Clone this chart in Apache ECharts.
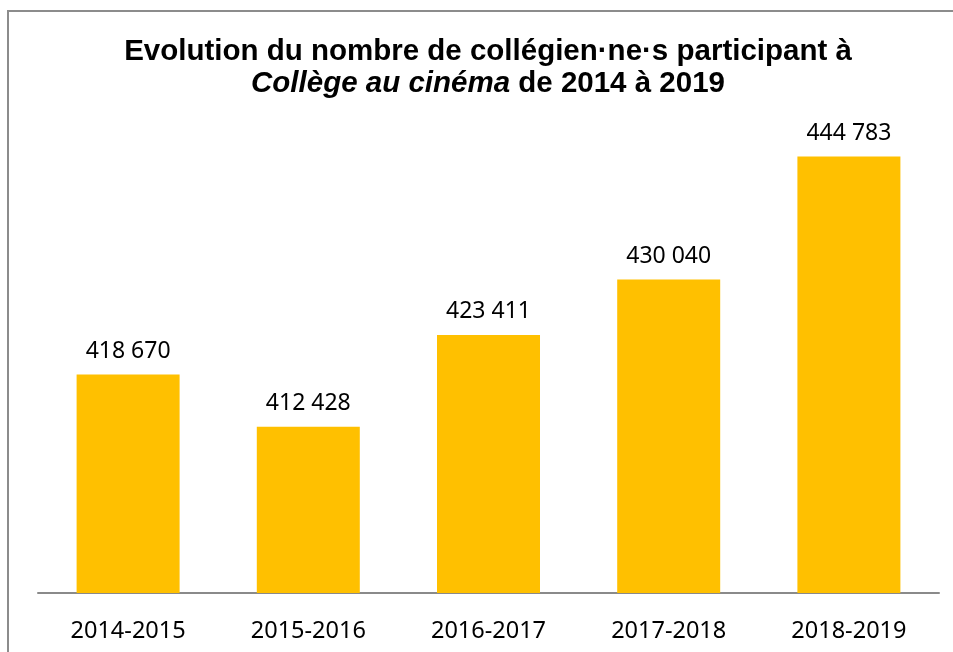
<!DOCTYPE html>
<html lang="fr">
<head>
    <meta charset="UTF-8">
    <title>Collège au cinéma</title>
    <script src="https://cdn.jsdelivr.net/npm/echarts@6/dist/echarts.min.js"></script>
    <style type="text/css">
        html, body { margin: 0; padding: 0; background: #fff; }
        #main { width: 953px; height: 652px; }
    </style>
</head>
<body>
    <div id="main"></div>
    <script type="text/javascript">
        // données du graphique
        var annees = ['2014-2015', '2015-2016', '2016-2017', '2017-2018', '2018-2019'];
        var effectifs = [418670, 412428, 423411, 430040, 444783];

        // "418 670" -> séparateur de milliers avec espace
        function fmt(v) {
            return String(v).replace(/\B(?=(\d{3})+(?!\d))/g, ' ');
        }

        var myChart = echarts.init(document.getElementById('main'));
        myChart.setOption({
            animation: false,
            backgroundColor: '#ffffff',
            title: {
                left: 483,
                top: 31,
                textAlign: 'center',
                text: '{b|Evolution du nombre de collégien·ne·s participant à}\n{i|Collège au cinéma}{b| de 2014 à 2019}',
                textStyle: {
                    rich: {
                        b: { fontFamily: 'Liberation Sans', fontWeight: 'bold', fontSize: 29.5, color: '#000', lineHeight: 32 },
                        i: { fontFamily: 'Liberation Sans', fontWeight: 'bold', fontStyle: 'italic', fontSize: 29.5, color: '#000', lineHeight: 32 }
                    }
                }
            },
            graphic: [
                { type: 'line', shape: { x1: 8, y1: 11, x2: 8, y2: 652 }, style: { stroke: '#8c8c8c', lineWidth: 2 } },
                { type: 'line', shape: { x1: 7, y1: 11, x2: 953, y2: 11 }, style: { stroke: '#8c8c8c', lineWidth: 2 } }
            ],
            grid: { left: 38, right: 14, top: 113, bottom: 59 },
            xAxis: {
                type: 'category',
                data: annees,
                axisLine: { lineStyle: { color: '#8a8a8a', width: 2 } },
                axisTick: { show: false },
                axisLabel: { color: '#000', fontFamily: 'Noto Sans', fontSize: 23.5, margin: 26 }
            },
            yAxis: {
                type: 'value',
                min: 392500,
                max: 450000,
                show: false,
                splitLine: { show: false }
            },
            series: [{
                type: 'bar',
                data: effectifs,
                barWidth: 103,
                itemStyle: { color: '#FFC000' },
                label: {
                    show: true,
                    position: 'top',
                    distance: 12,
                    color: '#000',
                    fontFamily: 'Noto Sans',
                    fontSize: 23,
                    formatter: function (p) { return fmt(p.value); }
                }
            }]
        });
    </script>
</body>
</html>
